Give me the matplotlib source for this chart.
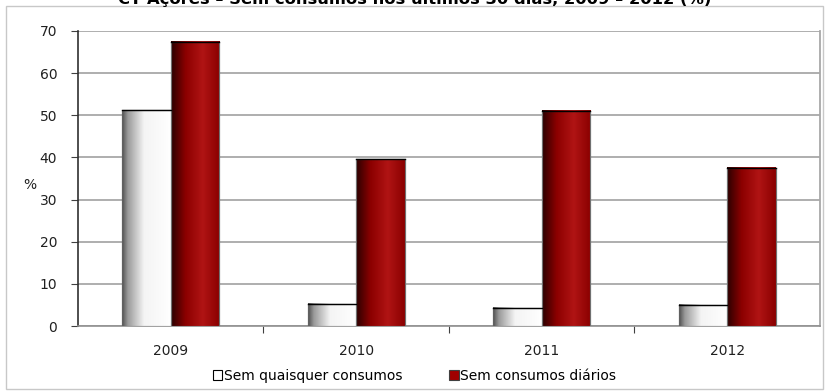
import numpy as np
import matplotlib.pyplot as plt
from matplotlib.colors import LinearSegmentedColormap
from matplotlib.patches import Rectangle

plt.rcParams['font.family'] = ['DejaVu Sans']

anos = ['2009', '2010', '2011', '2012']
sem_quaisquer = [51.2, 5.3, 4.3, 5.0]
sem_diarios = [67.4, 39.6, 51.1, 37.5]
titulo = 'CT Açores \u2013 Sem consumos nos últimos 30 dias, 2009 \u2013 2012 (%)'

cmap_branco = LinearSegmentedColormap.from_list(
    'branco', [(0, '#505050'), (0.12, '#9a9a9a'), (0.45, '#f4f4f4'), (1, '#ffffff')])
cmap_vermelho = LinearSegmentedColormap.from_list(
    'vermelho', [(0, '#2a0000'), (0.3, '#8c0000'), (0.65, '#b01414'), (1, '#8a0000')])

fig = plt.figure(figsize=(8.29, 3.92), dpi=100)
ax = fig.add_axes([0.0941, 0.168, 0.8950, 0.753])

x = np.arange(len(anos))
w = 0.262

b1 = ax.bar(x - w / 2, sem_quaisquer, w, color='white', edgecolor='#606060', linewidth=0.8, zorder=3)
b2 = ax.bar(x + w / 2, sem_diarios, w, color='#a00000', edgecolor='#707070', linewidth=0.8, zorder=3)

# gradient fill inside each bar
grad = np.linspace(0, 1, 256).reshape(1, -1)
for bars, cm in ((b1, cmap_branco), (b2, cmap_vermelho)):
    for r in bars:
        x0, h, bw = r.get_x(), r.get_height(), r.get_width()
        ax.imshow(grad, cmap=cm, extent=[x0, x0 + bw, 0, h], aspect='auto', zorder=3.5)
        ax.add_patch(Rectangle((x0, 0), bw, h, fill=False, edgecolor=r.get_edgecolor(),
                               linewidth=0.8, zorder=4))
        ax.plot([x0, x0 + bw], [h, h], color='black', linewidth=1.0, zorder=4.5)

ax.set_xlim(-0.5, len(anos) - 0.5)
ax.set_ylim(0, 70)
ax.set_yticks(range(0, 71, 10))
ax.set_xticks(x)
ax.set_xticklabels(anos)
ax.set_xticks(np.arange(0.5, len(anos) - 0.5, 1), minor=True)
ax.tick_params(axis='x', which='major', length=0, pad=13, labelsize=10, labelcolor='#202020')
ax.tick_params(axis='x', which='minor', length=5, width=0.8, color='#404040', direction='out')
ax.tick_params(axis='y', length=5, width=0.8, color='#404040', labelsize=10, pad=10,
               labelcolor='#202020')
ax.set_aspect('auto')

ax.grid(axis='y', color='#a8a8a8', linewidth=1.3, zorder=0)
ax.set_axisbelow(True)
ax.spines['top'].set_visible(False)
ax.spines['right'].set_color('#a8a8a8')
ax.spines['right'].set_linewidth(1.3)
ax.spines['left'].set_color('#303030')
ax.spines['left'].set_linewidth(1.2)
ax.spines['bottom'].set_color('#909090')
ax.spines['bottom'].set_linewidth(1.2)

ax.text(-0.074, 33.5, '%', transform=ax.get_yaxis_transform(), fontsize=10,
        ha='left', va='center', color='#202020')

h1 = Rectangle((0, 0), 1, 1, facecolor='white', edgecolor='black', linewidth=0.8)
h2 = Rectangle((0, 0), 1, 1, facecolor='#a00000', edgecolor='#404040', linewidth=0.8)
fig.legend([h1, h2], ['Sem quaisquer consumos', 'Sem consumos diários'], loc='center',
           bbox_to_anchor=(0.5, 0.041), ncol=2, frameon=False, fontsize=10,
           handlelength=0.7, handleheight=0.7, handletextpad=0.1, columnspacing=3.4)

fig.text(0.5, 1.003, titulo, ha='center', va='center', fontsize=11.8, fontweight='bold')
fig.patches.append(Rectangle((6 / 829, 3 / 392), 817 / 829, 383 / 392, transform=fig.transFigure,
                             fill=False, edgecolor='#c8c8c8', linewidth=1.0))

fig.savefig('out.png', dpi=100)
